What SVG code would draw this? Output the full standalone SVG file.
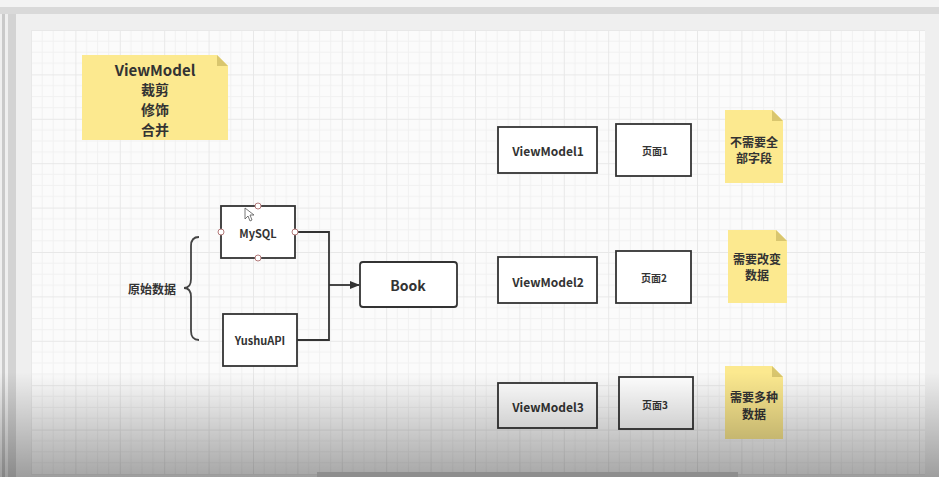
<svg xmlns="http://www.w3.org/2000/svg" width="939" height="477" viewBox="0 0 939 477">
<defs>
<pattern id="grid" x="31" y="30" width="44.4" height="44.4" patternUnits="userSpaceOnUse">
<path d="M11.1 0V44.4M22.2 0V44.4M33.3 0V44.4M0 11.1H44.4M0 22.2H44.4M0 33.3H44.4" stroke="#f1f1f1" stroke-width="1" fill="none"/>
<path d="M0.5 0V44.4M0 0.5H44.4" stroke="#e8e8e8" stroke-width="1" fill="none"/>
</pattern>
<linearGradient id="shade" x1="0" y1="0" x2="0" y2="1">
<stop offset="0" stop-color="#000" stop-opacity="0"/>
<stop offset="1" stop-color="#000" stop-opacity="0.34"/>
</linearGradient>
<marker id="arr" markerWidth="10" markerHeight="8" refX="9" refY="4" orient="auto" markerUnits="userSpaceOnUse">
<path d="M0 0L10 4L0 8Z" fill="#333"/>
</marker>
<style>
.box{fill:#fff;stroke:#333;stroke-width:1.8}
.note{fill:#fce98f}
.fold{fill:#d9c66e}
.t{font-family:"Noto Sans CJK SC","Open Sans",sans-serif;fill:#333;text-anchor:middle;dominant-baseline:central;font-weight:bold}
.h{fill:#fff;stroke:#b37a7a;stroke-width:1}
.c{fill:none;stroke:#333;stroke-width:1.8}
</style>
</defs>
<rect width="939" height="477" fill="#efefef"/>
<rect x="0" y="0" width="939" height="7" fill="#f3f3f3"/>
<rect x="0" y="7" width="939" height="7" fill="#d9d9d9"/>
<rect x="2" y="14" width="3" height="463" fill="#c9c9c9"/>
<rect x="8" y="14" width="8" height="463" fill="#d3d3d3"/>
<rect x="31" y="30" width="894" height="445" fill="#fbfbfb"/>
<rect x="31" y="30" width="894" height="445" fill="url(#grid)"/>

<g id="note-viewmodel">
<path class="note" d="M82 55H217L228 66V140H82Z"/>
<path class="fold" d="M217 55L228 66H217Z"/>
<text class="t" x="155" y="69" font-size="15">ViewModel</text>
<text class="t" x="155" y="89" font-size="14">裁剪</text>
<text class="t" x="155" y="109" font-size="14">修饰</text>
<text class="t" x="155" y="129" font-size="14">合并</text>
</g>

<g id="label-raw">
<text class="t" x="152" y="288" font-size="12">原始数据</text>
<path d="M199 237Q191 237 191 246V279Q191 288 184 288Q191 288 191 297V331Q191 340 199 340" fill="none" stroke="#444" stroke-width="1.8"/>
</g>

<g id="node-mysql">
<rect class="box" x="221" y="206" width="74" height="52"/>
<text class="t" x="258" y="233" font-size="11">MySQL</text>
<circle class="h" cx="258" cy="206" r="3"/>
<circle class="h" cx="221" cy="232" r="3"/>
<circle class="h" cx="258" cy="258" r="3"/>
</g>

<g id="node-yushuapi">
<rect class="box" x="223" y="314" width="74" height="52"/>
<text class="t" x="260" y="340" font-size="11">YushuAPI</text>
</g>

<g id="node-book">
<rect class="box" x="360" y="262" width="97" height="45" rx="3"/>
<text class="t" x="408" y="285" font-size="14">Book</text>
</g>

<g id="connectors">
<path class="c" d="M298 232H329V340H297"/>
<path class="c" d="M329 285H359" marker-end="url(#arr)"/>
<circle class="h" cx="295" cy="232" r="3"/>
</g>

<g id="node-vm1">
<rect class="box" x="498" y="127" width="99" height="46"/>
<text class="t" x="548" y="150" font-size="12">ViewModel1</text>
</g>
<g id="node-page1">
<rect class="box" x="616" y="124" width="75" height="52"/>
<text class="t" x="655" y="150" font-size="10">页面1</text>
</g>
<g id="note-1">
<path class="note" d="M725 110H772L783 121V183H725Z"/>
<path class="fold" d="M772 110L783 121H772Z"/>
<text class="t" x="754" y="141" font-size="12">不需要全</text>
<text class="t" x="754" y="157" font-size="12">部字段</text>
</g>

<g id="node-vm2">
<rect class="box" x="498" y="257" width="99" height="46"/>
<text class="t" x="548" y="281" font-size="12">ViewModel2</text>
</g>
<g id="node-page2">
<rect class="box" x="616" y="251" width="75" height="52"/>
<text class="t" x="654" y="277" font-size="10">页面2</text>
</g>
<g id="note-2">
<path class="note" d="M728 230H776L787 241V303H728Z"/>
<path class="fold" d="M776 230L787 241H776Z"/>
<text class="t" x="757" y="258" font-size="12">需要改变</text>
<text class="t" x="757" y="274" font-size="12">数据</text>
</g>

<g id="node-vm3">
<rect class="box" x="498" y="383" width="99" height="45"/>
<text class="t" x="548" y="406" font-size="12">ViewModel3</text>
</g>
<g id="node-page3">
<rect class="box" x="619" y="377" width="74" height="52"/>
<text class="t" x="655" y="404" font-size="10">页面3</text>
</g>
<g id="note-3">
<path class="note" d="M725 366H772L783 377V439H725Z"/>
<path class="fold" d="M772 366L783 377H772Z"/>
<text class="t" x="754" y="396" font-size="12">需要多种</text>
<text class="t" x="754" y="413" font-size="12">数据</text>
</g>

<path d="M245 208V219L248 216L250 221L252 220L250 215H254Z" fill="#fff" stroke="#555" stroke-width="0.8"/>

<rect x="0" y="372" width="939" height="105" fill="url(#shade)"/>
<rect x="317" y="472" width="421" height="5" fill="#8e8e8e"/>
</svg>
